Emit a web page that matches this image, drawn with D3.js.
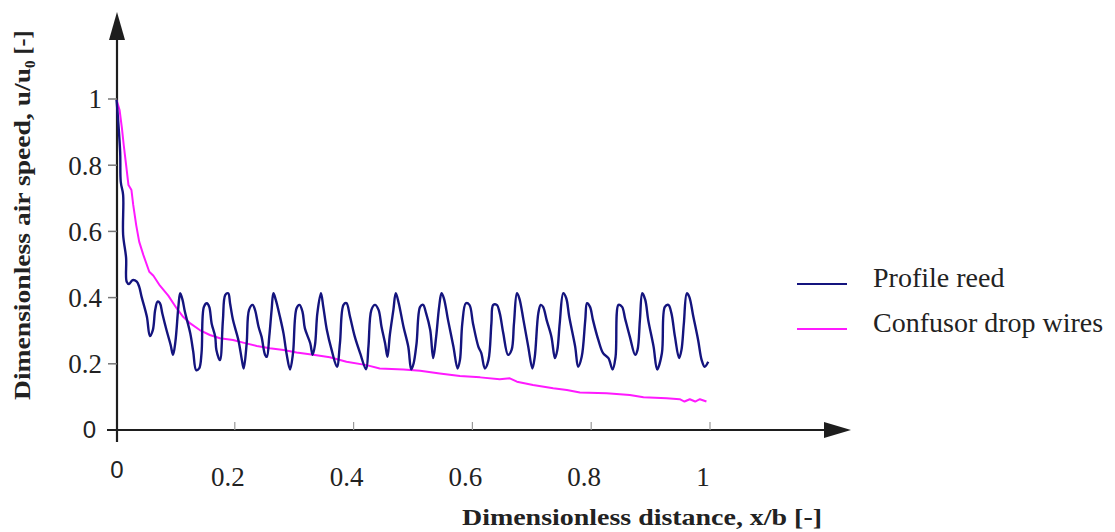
<!DOCTYPE html>
<html>
<head>
<meta charset="utf-8">
<script src="https://cdn.jsdelivr.net/npm/d3@7"></script>
<style>
  body { margin: 0; background: #fff; }
  svg { display: block; }
</style>
</head>
<body>
<svg id="chart" width="1115" height="532"></svg>
<script>
// profile reed (dark blue)
var reedX = [0.001, 0.007, 0.008, 0.012, 0.012, 0.017, 0.018, 0.022, 0.028, 0.035, 0.039, 0.043, 0.052, 0.057,
  0.062, 0.066, 0.070, 0.074, 0.078, 0.085, 0.092, 0.096, 0.100, 0.105, 0.108, 0.112, 0.116, 0.125, 0.130,
  0.135, 0.140, 0.144, 0.148, 0.153, 0.157, 0.161, 0.167, 0.169, 0.175, 0.180, 0.184, 0.189, 0.192, 0.197,
  0.206, 0.212, 0.215, 0.220, 0.224, 0.230, 0.234, 0.240, 0.245, 0.251, 0.254, 0.258, 0.262, 0.265, 0.269,
  0.276, 0.282, 0.287, 0.293, 0.298, 0.304, 0.309, 0.314, 0.318, 0.327, 0.331, 0.335, 0.339, 0.345, 0.349,
  0.355, 0.363, 0.372, 0.377, 0.383, 0.388, 0.394, 0.402, 0.411, 0.421, 0.425, 0.430, 0.436, 0.442, 0.447,
  0.453, 0.457, 0.461, 0.467, 0.471, 0.476, 0.484, 0.492, 0.497, 0.501, 0.506, 0.512, 0.517, 0.522, 0.529,
  0.534, 0.539, 0.544, 0.548, 0.552, 0.559, 0.568, 0.575, 0.579, 0.583, 0.589, 0.595, 0.601, 0.610, 0.615,
  0.621, 0.627, 0.632, 0.635, 0.641, 0.646, 0.652, 0.660, 0.666, 0.670, 0.675, 0.679, 0.686, 0.694, 0.701,
  0.705, 0.711, 0.715, 0.719, 0.725, 0.733, 0.739, 0.743, 0.747, 0.753, 0.758, 0.763, 0.773, 0.778, 0.784,
  0.790, 0.793, 0.798, 0.803, 0.812, 0.820, 0.829, 0.836, 0.841, 0.846, 0.852, 0.857, 0.865, 0.874, 0.878,
  0.882, 0.886, 0.891, 0.896, 0.905, 0.911, 0.919, 0.924, 0.930, 0.935, 0.941, 0.948, 0.952, 0.956, 0.961,
  0.965, 0.972, 0.980, 0.986, 0.991, 0.997];
var reedY = [0.997, 0.84, 0.75, 0.71, 0.59, 0.52, 0.448, 0.441, 0.453, 0.448, 0.433, 0.403, 0.342, 0.284,
  0.302, 0.363, 0.388, 0.383, 0.352, 0.302, 0.257, 0.227, 0.267, 0.372, 0.413, 0.393, 0.357, 0.292, 0.237,
  0.181, 0.186, 0.232, 0.372, 0.383, 0.372, 0.322, 0.282, 0.242, 0.211, 0.332, 0.408, 0.413, 0.383, 0.332,
  0.272, 0.211, 0.186, 0.262, 0.363, 0.378, 0.363, 0.312, 0.282, 0.227, 0.221, 0.282, 0.363, 0.413, 0.393,
  0.342, 0.292, 0.232, 0.183, 0.232, 0.368, 0.378, 0.357, 0.307, 0.262, 0.227, 0.257, 0.353, 0.413, 0.372,
  0.302, 0.242, 0.191, 0.262, 0.378, 0.383, 0.342, 0.282, 0.232, 0.183, 0.252, 0.363, 0.378, 0.363, 0.312,
  0.262, 0.221, 0.287, 0.363, 0.413, 0.383, 0.312, 0.252, 0.183, 0.201, 0.262, 0.372, 0.378, 0.353, 0.302,
  0.217, 0.282, 0.372, 0.413, 0.398, 0.332, 0.252, 0.186, 0.211, 0.322, 0.383, 0.378, 0.322, 0.252, 0.232,
  0.186, 0.211, 0.322, 0.378, 0.378, 0.353, 0.292, 0.227, 0.242, 0.322, 0.413, 0.398, 0.332, 0.252, 0.186,
  0.221, 0.353, 0.378, 0.372, 0.332, 0.282, 0.217, 0.242, 0.322, 0.413, 0.398, 0.342, 0.252, 0.191, 0.221,
  0.332, 0.383, 0.372, 0.332, 0.272, 0.232, 0.217, 0.183, 0.221, 0.378, 0.372, 0.337, 0.282, 0.227, 0.242,
  0.332, 0.413, 0.393, 0.332, 0.252, 0.183, 0.232, 0.372, 0.378, 0.353, 0.282, 0.217, 0.242, 0.322, 0.413,
  0.403, 0.342, 0.272, 0.211, 0.191, 0.206];

// confusor drop wires (magenta)
var confX = [0.001, 0.006, 0.010, 0.013, 0.017, 0.021, 0.026, 0.029, 0.034, 0.039, 0.046, 0.056, 0.063,
  0.074, 0.088, 0.102, 0.113, 0.125, 0.141, 0.158, 0.175, 0.197, 0.214, 0.237, 0.259, 0.282, 0.304, 0.332,
  0.360, 0.388, 0.422, 0.444, 0.484, 0.512, 0.545, 0.579, 0.613, 0.646, 0.663, 0.675, 0.702, 0.736, 0.759,
  0.781, 0.826, 0.865, 0.888, 0.927, 0.949, 0.957, 0.966, 0.975, 0.983, 0.994];
var confY = [0.997, 0.967, 0.911, 0.861, 0.801, 0.740, 0.725, 0.680, 0.619, 0.569, 0.529, 0.478, 0.466,
  0.436, 0.406, 0.368, 0.342, 0.322, 0.302, 0.287, 0.277, 0.272, 0.264, 0.254, 0.247, 0.242, 0.234, 0.227,
  0.220, 0.206, 0.196, 0.186, 0.183, 0.179, 0.171, 0.163, 0.159, 0.153, 0.156, 0.146, 0.136, 0.126, 0.121,
  0.113, 0.111, 0.106, 0.099, 0.096, 0.093, 0.086, 0.093, 0.086, 0.093, 0.086];

var xTicks = [0, 0.2, 0.4, 0.6, 0.8, 1];
var xTickLabels = ["0", "0.2", "0.4", "0.6", "0.8", "1"];
var yTicks = [0, 0.2, 0.4, 0.6, 0.8, 1];
var yTickLabels = ["0", "0.2", "0.4", "0.6", "0.8", "1"];
var seriesNames = ["Profile reed", "Confusor drop wires"];
var seriesColors = ["#14147e", "#ff1aff"];

var svg = d3.select("#chart");
var serif = "'Liberation Serif', 'Times New Roman', serif";
var sans = "'Liberation Sans', Arial, sans-serif";

var x = d3.scaleLinear().domain([0, 1]).range([116, 710]);
var y = d3.scaleLinear().domain([0, 1]).range([430, 99]);

// axis lines + arrows
var axisColor = "#1e1e1e";
svg.append("line").attr("x1", 117).attr("x2", 117).attr("y1", 442).attr("y2", 30)
    .attr("stroke", axisColor).attr("stroke-width", 2.2);
svg.append("path").attr("d", "M117,12 L109,40 L125,40 Z").attr("fill", axisColor);
svg.append("line").attr("x1", 107).attr("x2", 835).attr("y1", 430).attr("y2", 430)
    .attr("stroke", axisColor).attr("stroke-width", 2.2);
svg.append("path").attr("d", "M851,430 L824,422 L824,438 Z").attr("fill", axisColor);

// ticks
svg.selectAll(".ytick").data(yTicks.slice(1)).enter().append("line")
    .attr("x1", 108).attr("x2", 117)
    .attr("y1", function (d) { return y(d); }).attr("y2", function (d) { return y(d); })
    .attr("stroke", "#777").attr("stroke-width", 1.5);
svg.selectAll(".xtick").data(xTicks.slice(1)).enter().append("line")
    .attr("x1", function (d) { return x(d); }).attr("x2", function (d) { return x(d); })
    .attr("y1", 422).attr("y2", 430)
    .attr("stroke", "#999").attr("stroke-width", 1.2);

// tick labels
yTicks.forEach(function (d, i) {
    svg.append("text")
        .attr("x", i === 0 ? 96 : 102).attr("y", y(d)).attr("dy", "0.35em")
        .attr("text-anchor", "end")
        .attr("font-family", i === 0 ? sans : serif)
        .attr("font-size", i === 0 ? 24 : 27)
        .attr("fill", "#222")
        .text(yTickLabels[i]);
});
xTicks.forEach(function (d, i) {
    svg.append("text")
        .attr("x", i === 0 ? x(d) + 1 : x(d) - 7).attr("y", i === 0 ? 478 : 486)
        .attr("text-anchor", "middle")
        .attr("font-family", i === 0 ? sans : serif)
        .attr("font-size", i === 0 ? 24 : 27)
        .attr("fill", "#222")
        .text(xTickLabels[i]);
});

// axis titles
svg.append("text")
    .attr("x", 822).attr("y", 525).attr("text-anchor", "end")
    .attr("font-family", serif).attr("font-weight", "bold").attr("font-size", 24)
    .attr("fill", "#222")
    .attr("textLength", 360).attr("lengthAdjust", "spacingAndGlyphs")
    .text("Dimensionless distance, x/b [-]");

var yt = svg.append("text")
    .attr("transform", "translate(30,400) rotate(-90)")
    .attr("text-anchor", "start")
    .attr("font-family", serif).attr("font-weight", "bold").attr("font-size", 24)
    .attr("fill", "#222");
yt.append("tspan").attr("textLength", 332).attr("lengthAdjust", "spacingAndGlyphs")
    .text("Dimensionless air speed, u/u");
yt.append("tspan").attr("font-size", 15).attr("dy", 5).text("0");
yt.append("tspan").attr("dy", -5).text(" [-]");

// series
var line = d3.line()
    .x(function (d) { return x(d[0]); })
    .y(function (d) { return y(d[1]); });

var conf = d3.zip(confX, confY);
var reed = d3.zip(reedX, reedY);

svg.append("path").datum(conf).attr("d", line)
    .attr("fill", "none").attr("stroke", seriesColors[1]).attr("stroke-width", 2)
    .attr("stroke-linejoin", "round");
svg.append("path").datum(reed).attr("d", line.curve(d3.curveCatmullRom.alpha(0.5)))
    .attr("fill", "none").attr("stroke", seriesColors[0]).attr("stroke-width", 2.4)
    .attr("stroke-linejoin", "round");

// legend
seriesNames.forEach(function (name, i) {
    var ly = 284 + i * 45;
    svg.append("line").attr("x1", 797).attr("x2", 847).attr("y1", ly).attr("y2", ly)
        .attr("stroke", seriesColors[i]).attr("stroke-width", 2);
    svg.append("text").attr("x", 873).attr("y", ly + 3)
        .attr("font-family", serif).attr("font-size", 28).attr("fill", "#222")
        .text(name);
});
</script>
</body>
</html>
